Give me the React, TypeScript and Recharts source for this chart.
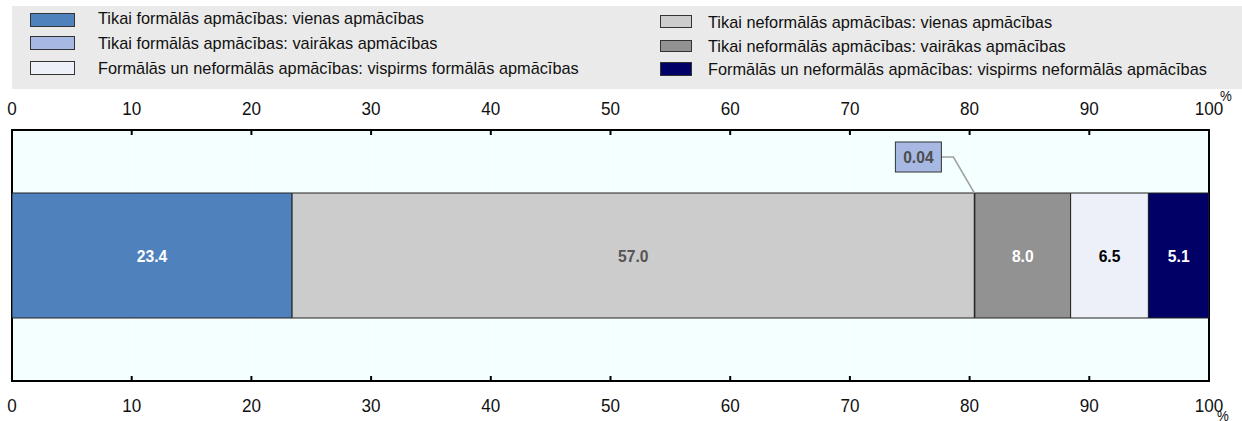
import React from 'react';
import { BarChart, Bar, XAxis, YAxis, CartesianGrid, ReferenceArea, LabelList } from 'recharts';

const categories = ['Kopā'];
const seriesNames = [
  'Tikai formālās apmācības: vienas apmācības',
  'Tikai neformālās apmācības: vienas apmācības',
  'Tikai formālās apmācības: vairākas apmācības',
  'Tikai neformālās apmācības: vairākas apmācības',
  'Formālās un neformālās apmācības: vispirms formālās apmācības',
  'Formālās un neformālās apmācības: vispirms neformālās apmācības',
];
const seriesValues = [23.4, 57.0, 0.04, 8.0, 6.5, 5.1];
const seriesLabels = ['23.4', '57.0', '0.04', '8.0', '6.5', '5.1'];
const seriesColors = ['#4F81BD', '#CCCCCC', '#A7B9E3', '#929292', '#EDF0F8', '#000066'];
const labelColors = ['#FFFFFF', '#555555', '#4D4D4D', '#FFFFFF', '#000000', '#FFFFFF'];
const xTicks = [0, 10, 20, 30, 40, 50, 60, 70, 80, 90, 100];

const FONT = "'Liberation Sans',Arial,sans-serif";
const W = 1242;
const H = 421;
const PLOT_TOP = 130;
const PLOT_BOTTOM = 381;
const NARROW = 0.95;

const data = categories.map((c) => {
  const row: Record<string, any> = { name: c };
  seriesValues.forEach((v, i) => (row['s' + i] = v));
  return row;
});

// legend layout: items in row-major order across two columns
const legendPos = [
  { col: 0, row: 0 },
  { col: 1, row: 0 },
  { col: 0, row: 1 },
  { col: 1, row: 1 },
  { col: 0, row: 2 },
  { col: 1, row: 2 },
];
const leftSw = [
  { top: 12.5, h: 14 },
  { top: 36, h: 13.5 },
  { top: 61, h: 13.5 },
];
const rightSw = [
  { top: 15, h: 13 },
  { top: 40, h: 12 },
  { top: 61.5, h: 14.5 },
];
const leftTextC = [19, 43.5, 68.5];
const rightTextC = [23.4, 47.4, 70.2];

const NText = (p: any) => {
  const { x, y, sx = NARROW, children, ...rest } = p;
  return (
    <text transform={`translate(${x},${y}) scale(${sx},1)`} x={0} y={0} fontFamily={FONT} {...rest}>
      {children}
    </text>
  );
};

const TopTick = (props: any) => {
  const { x, payload } = props;
  return (
    <g>
      <line x1={x} x2={x} y1={PLOT_TOP} y2={PLOT_TOP + 5} stroke="#000" strokeWidth={2} />
      <NText x={x} y={115} textAnchor="middle" fontSize={18} fill="#111">
        {payload.value}
      </NText>
      {payload.value === 100 && (
        <NText x={x + 11} y={101} textAnchor="start" fontSize={14} fill="#111">
          %
        </NText>
      )}
    </g>
  );
};

const BottomTick = (props: any) => {
  const { x, payload } = props;
  return (
    <g>
      <line x1={x} x2={x} y1={PLOT_BOTTOM} y2={PLOT_BOTTOM - 5} stroke="#000" strokeWidth={2} />
      <NText x={x} y={411.5} textAnchor="middle" fontSize={18} fill="#111">
        {payload.value}
      </NText>
      {payload.value === 100 && (
        <NText x={x + 8} y={421} textAnchor="start" fontSize={14} fill="#111">
          %
        </NText>
      )}
    </g>
  );
};

const makeCenterLabel = (i: number) => (props: any) => {
  const { x, y, width, height } = props;
  return (
    <NText
      x={x + width / 2}
      y={y + height / 2}
      sx={0.92}
      textAnchor="middle"
      dominantBaseline="central"
      fontSize={17}
      fontWeight="bold"
      fill={labelColors[i]}
    >
      {seriesLabels[i]}
    </NText>
  );
};

const makeCallout = (i: number) => (props: any) => {
  const { x, y } = props;
  const bx = x - 33;
  const by = y - 36;
  return (
    <g>
      <polyline
        points={`${bx},${by} ${bx + 12},${by} ${x},${y}`}
        fill="none"
        stroke="#A0A0A0"
        strokeWidth={1.5}
      />
      <rect x={bx - 46} y={by - 15} width={46} height={30} fill={seriesColors[i]} stroke="#333" strokeWidth={1} />
      <NText
        x={bx - 23}
        y={by}
        sx={0.92}
        textAnchor="middle"
        dominantBaseline="central"
        fontSize={17}
        fontWeight="bold"
        fill={labelColors[i]}
      >
        {seriesLabels[i]}
      </NText>
    </g>
  );
};

export default function App() {
  return (
    <div style={{ position: 'absolute', left: 0, top: 0, width: W, height: H, background: '#fff', overflow: 'hidden' }}>
      <div
        style={{
          position: 'absolute',
          left: 12,
          top: 6,
          width: W - 12,
          height: 83,
          background: '#EAEAEA',
        }}
      />
      {seriesNames.map((name, i) => {
        const { col, row } = legendPos[i];
        const sw = col === 0 ? leftSw[row] : rightSw[row];
        const swLeft = col === 0 ? 30 : 660;
        const swW = col === 0 ? 45 : 32;
        const textLeft = col === 0 ? 98 : 708;
        const tc = col === 0 ? leftTextC[row] : rightTextC[row];
        return (
          <React.Fragment key={name}>
            <div
              style={{
                position: 'absolute',
                left: swLeft,
                top: sw.top,
                width: swW,
                height: sw.h,
                background: seriesColors[i],
                border: '1px solid #333',
                boxSizing: 'border-box',
              }}
            />
            <div
              style={{
                position: 'absolute',
                left: textLeft,
                top: tc - 10,
                height: 20,
                lineHeight: '20px',
                fontFamily: FONT,
                fontSize: 17,
                color: '#111',
                whiteSpace: 'nowrap',
                transform: 'scaleX(0.96)',
                transformOrigin: 'left center',
              }}
            >
              {name}
            </div>
          </React.Fragment>
        );
      })}
      <div style={{ position: 'absolute', left: 0, top: 0 }}>
        <BarChart
          width={W}
          height={H}
          data={data}
          layout="vertical"
          margin={{ top: PLOT_TOP - 30, right: 33, bottom: H - PLOT_BOTTOM - 30, left: 12 }}
        >
          <CartesianGrid
            xAxisId="bottom"
            horizontal={false}
            vertical={true}
            stroke="#FFFFFF"
            strokeWidth={1}
            fill="#F4FFFF"
            fillOpacity={1}
          />
          <XAxis
            xAxisId="top"
            orientation="top"
            type="number"
            domain={[0, 100]}
            ticks={xTicks}
            allowDataOverflow
            height={30}
            axisLine={false}
            tickLine={false}
            tick={<TopTick />}
            interval={0}
          />
          <XAxis
            xAxisId="bottom"
            orientation="bottom"
            type="number"
            domain={[0, 100]}
            ticks={xTicks}
            allowDataOverflow
            height={30}
            axisLine={false}
            tickLine={false}
            tick={<BottomTick />}
            interval={0}
          />
          <YAxis type="category" dataKey="name" hide />
          {seriesValues.map((_, i) => (
            <Bar
              key={i}
              dataKey={'s' + i}
              name={seriesNames[i]}
              stackId="a"
              xAxisId="bottom"
              fill={seriesColors[i]}
              stroke="#222"
              strokeWidth={1}
              barSize={125}
              isAnimationActive={false}
            >
              <LabelList dataKey={'s' + i} content={i === 2 ? makeCallout(i) : makeCenterLabel(i)} />
            </Bar>
          ))}
          <ReferenceArea
            xAxisId="bottom"
            x1={0}
            x2={100}
            fill="none"
            fillOpacity={0}
            stroke="#000"
            strokeWidth={2}
            ifOverflow="extendDomain"
          />
        </BarChart>
      </div>
    </div>
  );
}
